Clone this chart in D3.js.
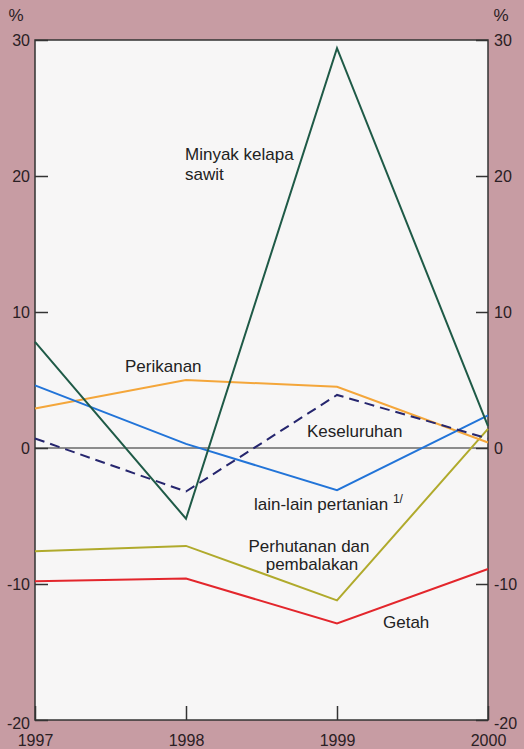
<!DOCTYPE html>
<html>
<head>
<meta charset="utf-8">
<script src="https://cdn.jsdelivr.net/npm/d3@7"></script>
<style>
  body { margin: 0; background: #c79ca3; }
  svg { display: block; font-family: "Liberation Sans", Arial, sans-serif; }
</style>
</head>
<body>
<div id="chart"></div>
<script>

// years along the bottom
var years = [1997, 1998, 1999, 2000];
var yTicks = [30, 20, 10, 0, -10, -20];

// annual change, %
var sawit = [7.8, -5.2, 29.4, 1.6];
var perikanan = [2.9, 5.0, 4.5, 0.4];
var lainLain = [4.6, 0.3, -3.1, 2.4];
var keseluruhan = [0.7, -3.2, 3.9, 0.7];
var perhutanan = [-7.6, -7.2, -11.2, 1.4];
var getah = [-9.8, -9.6, -12.9, -8.9];

var width = 524, height = 749;
var margin = {top: 40, right: 36, bottom: 29, left: 35};

var svg = d3.select("#chart").append("svg")
    .attr("width", width)
    .attr("height", height);

var x = d3.scalePoint()
    .domain(years)
    .range([margin.left, width - margin.right]);

var y = d3.scaleLinear()
    .domain([-20, 30])
    .range([height - margin.bottom, margin.top]);

// plot area
svg.append("rect")
    .attr("x", margin.left)
    .attr("y", margin.top)
    .attr("width", width - margin.left - margin.right)
    .attr("height", height - margin.top - margin.bottom)
    .attr("fill", "#f7f6f6")
    .attr("stroke", "#333")
    .attr("stroke-width", 1.5);

// zero line
svg.append("line")
    .attr("x1", margin.left)
    .attr("x2", width - margin.right)
    .attr("y1", y(0))
    .attr("y2", y(0))
    .attr("stroke", "#222")
    .attr("stroke-width", 1.2);

var series = [
    {name: "getah", values: getah, color: "#e3262c", dash: null},
    {name: "perhutanan", values: perhutanan, color: "#b0aa2c", dash: null},
    {name: "perikanan", values: perikanan, color: "#f4a63a", dash: null},
    {name: "lainLain", values: lainLain, color: "#2274d8", dash: null},
    {name: "keseluruhan", values: keseluruhan, color: "#26266e", dash: "10,6"},
    {name: "sawit", values: sawit, color: "#1f5a47", dash: null}
];

var line = d3.line()
    .x(function(d, i) { return x(years[i]); })
    .y(function(d) { return y(d); });

svg.selectAll(".series")
    .data(series)
    .enter().append("path")
    .attr("class", "series")
    .attr("d", function(d) { return line(d.values); })
    .attr("fill", "none")
    .attr("stroke", function(d) { return d.color; })
    .attr("stroke-width", 2)
    .attr("stroke-dasharray", function(d) { return d.dash; });

// axes
function styleAxis(g) {
    g.select(".domain").remove();
    g.selectAll(".tick line").attr("stroke", "#333").attr("stroke-width", 1.5);
    g.selectAll(".tick text")
        .attr("fill", "#2a2024")
        .attr("font-size", 16)
        .attr("font-family", "Liberation Sans, Arial, sans-serif");
}

// plain hyphen for negatives, like the original
var fmt = function(d) { return String(d); };

svg.append("g")
    .attr("transform", "translate(" + margin.left + ",0)")
    .call(d3.axisLeft(y).tickValues(yTicks).tickFormat(fmt).tickSize(-13).tickPadding(5))
    .call(styleAxis);

svg.append("g")
    .attr("transform", "translate(" + (width - margin.right) + ",0)")
    .call(d3.axisRight(y).tickValues(yTicks).tickFormat(fmt).tickSize(-12).tickPadding(6))
    .call(styleAxis);

// -20 labels sit a little below the frame corner
svg.selectAll(".tick").filter(function(d) { return d === -20; })
    .select("text").attr("dy", "0.5em");

svg.append("g")
    .attr("transform", "translate(0," + (height - margin.bottom) + ")")
    .call(d3.axisBottom(x).tickSize(-14))
    .call(styleAxis)
    .selectAll(".tick text").attr("dy", 0).attr("y", 26);

// % units
svg.append("text").attr("x", 16).attr("y", 21)
    .attr("text-anchor", "middle").attr("font-size", 17).attr("fill", "#2a2024").text("%");
svg.append("text").attr("x", 501).attr("y", 21)
    .attr("text-anchor", "middle").attr("font-size", 17).attr("fill", "#2a2024").text("%");

// series labels
var labels = [
    {text: "Minyak kelapa", x: 185, y: 160, anchor: "start"},
    {text: "sawit", x: 185, y: 180, anchor: "start"},
    {text: "Perikanan", x: 125, y: 372, anchor: "start"},
    {text: "Keseluruhan", x: 307, y: 437, anchor: "start"},
    {text: "Perhutanan dan", x: 309, y: 552, anchor: "middle"},
    {text: "pembalakan", x: 312, y: 570, anchor: "middle"},
    {text: "Getah", x: 383, y: 628, anchor: "start"}
];

svg.selectAll(".lbl")
    .data(labels)
    .enter().append("text")
    .attr("class", "lbl")
    .attr("x", function(d) { return d.x; })
    .attr("y", function(d) { return d.y; })
    .attr("text-anchor", function(d) { return d.anchor; })
    .attr("font-size", 17)
    .attr("fill", "#222")
    .text(function(d) { return d.text; });

var ll = svg.append("text")
    .attr("x", 254)
    .attr("y", 510)
    .attr("font-size", 17)
    .attr("fill", "#222")
    .text("lain-lain pertanian ");
ll.append("tspan")
    .attr("font-size", 12)
    .attr("dy", -7)
    .text("1/");

</script>
</body>
</html>
